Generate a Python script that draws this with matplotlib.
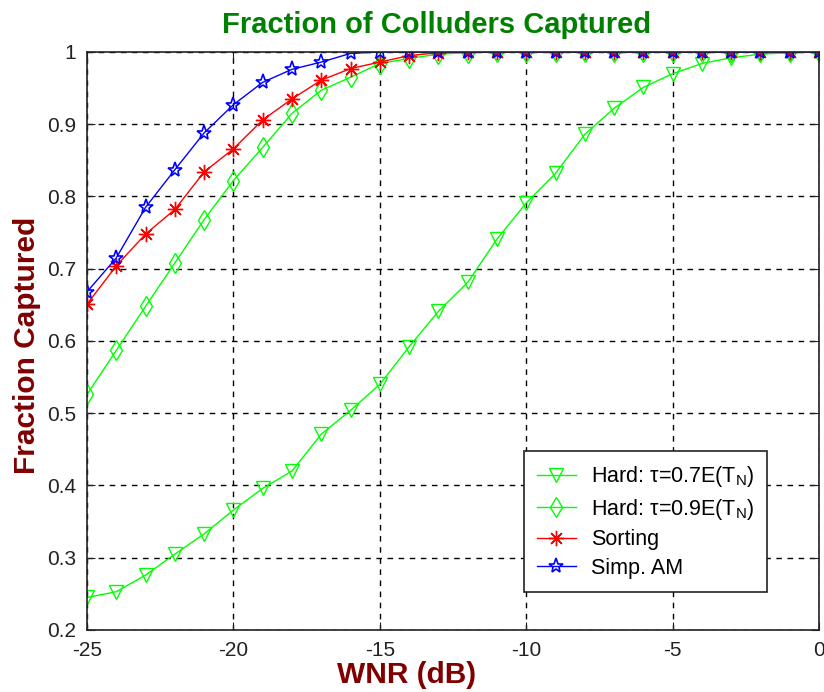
import numpy as np
import matplotlib
matplotlib.use('Agg')
import matplotlib.pyplot as plt

plt.rcParams['font.family'] = ['Liberation Sans', 'DejaVu Sans']
plt.rcParams['axes.unicode_minus'] = False
plt.rcParams['mathtext.fontset'] = 'custom'
plt.rcParams['mathtext.rm'] = 'Liberation Sans'

# WNR en dB
wnr = list(range(-25, 1))

# fracciones capturadas
hard07 = [0.245, 0.253, 0.276, 0.305, 0.333, 0.366, 0.396, 0.420, 0.471, 0.504,
          0.540, 0.592, 0.641, 0.681, 0.741, 0.791, 0.832, 0.886, 0.922, 0.951,
          0.970, 0.984, 0.992, 0.997, 0.999, 1.0]
hard09 = [0.526, 0.587, 0.648, 0.708, 0.768, 0.822, 0.868, 0.915, 0.947, 0.965,
          0.984, 0.991, 0.997, 0.999, 1.0, 1.0, 1.0, 1.0, 1.0, 1.0,
          1.0, 1.0, 1.0, 1.0, 1.0, 1.0]
sorting = [0.651, 0.704, 0.748, 0.782, 0.834, 0.866, 0.906, 0.935, 0.961, 0.977,
           0.986, 0.995, 0.999, 1.0, 1.0, 1.0, 1.0, 1.0, 1.0, 1.0,
           1.0, 1.0, 1.0, 1.0, 1.0, 1.0]
simp_am = [0.668, 0.715, 0.785, 0.837, 0.888, 0.927, 0.958, 0.976, 0.986, 0.998,
           1.0, 1.0, 1.0, 1.0, 1.0, 1.0, 1.0, 1.0, 1.0, 1.0,
           1.0, 1.0, 1.0, 1.0, 1.0, 1.0]

labels = [r'Hard: τ=0.7E(T$_\mathrm{N}$)', r'Hard: τ=0.9E(T$_\mathrm{N}$)', 'Sorting', 'Simp. AM']

fig = plt.figure(figsize=(8.24, 6.92), dpi=100)
ax = fig.add_axes([0.1056, 0.0896, 0.8884, 0.8353])

ax.plot(wnr, hard07, color='#00ff00', lw=1, marker='v', ms=10, mfc='none', mew=1, label=labels[0])
ax.plot(wnr, hard09, color='#00ff00', lw=1, marker='d', ms=10, mfc='none', mew=1, label=labels[1])
ax.plot(wnr, sorting, color='#ff0000', lw=1, marker=(8, 2, 0), ms=11, mew=1, label=labels[2])
ax.plot(wnr, simp_am, color='#0000ff', lw=1, marker='*', ms=11, mfc='none', mew=1.2, label=labels[3])

ax.set_xlim(-25, 0)
ax.set_ylim(0.2, 1)
ax.set_xticks([-25, -20, -15, -10, -5, 0])
ax.set_yticks([0.2, 0.3, 0.4, 0.5, 0.6, 0.7, 0.8, 0.9, 1.0])
ax.set_yticklabels(['0.2', '0.3', '0.4', '0.5', '0.6', '0.7', '0.8', '0.9', '1'])
ax.tick_params(direction='in', top=True, right=True, labelsize=15, length=6, colors='#222222', pad=8)
ax.grid(True, color='black', linestyle=(0, (4, 4)), linewidth=1)
for s in ax.spines.values():
    s.set_color('#222222')
    s.set_linewidth(1.2)

ax.text(0.477, 1.033, 'Fraction of Colluders Captured', transform=ax.transAxes,
        color='#008000', fontsize=21, fontweight='bold', ha='center', va='baseline')
ax.set_xlabel('WNR (dB)', color='#800000', fontsize=21.5, fontweight='bold')
ax.xaxis.label.set_va('baseline')
ax.xaxis.set_label_coords(0.437, -0.0917)
ax.set_ylabel('Fraction Captured', color='#800000', fontsize=21.5, fontweight='bold')
ax.yaxis.label.set_va('center')
ax.yaxis.set_label_coords(-0.082, 0.493)

leg = ax.legend(loc='lower right', bbox_to_anchor=(0.929, 0.066), borderaxespad=0,
                fontsize=15.5, numpoints=1, fancybox=False, edgecolor='#222222', framealpha=1,
                handlelength=1.8, handletextpad=0.7, borderpad=0.6, labelspacing=0.35)
leg.get_frame().set_linewidth(1.2)

fig.savefig('out.png', dpi=100)
